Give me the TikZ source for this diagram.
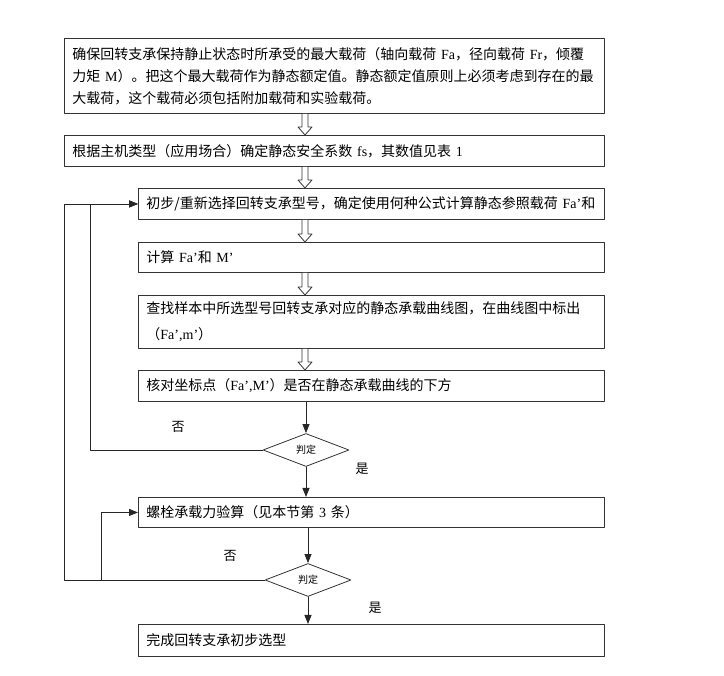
\documentclass[tikz,border=0pt]{standalone}
\usepackage{fontspec}
\setmainfont{Noto Sans CJK SC}
\newfontfamily\latinfont{Liberation Serif}
\usetikzlibrary{arrows.meta,calc,shapes.geometric}

\newcommand{\lat}[1]{{\latinfont #1}}
% hollow block arrow between two boxes, on the column of (axis)
\newcommand{\hollowarrow}[2]{%
  \draw[hollow] ($(#1.south -| axis)+(-3,0)$) -- ($(#2.north -| axis)+(-3,-8)$)
    -- ($(#2.north -| axis)+(-7,-8)$) -- (#2.north -| axis)
    -- ($(#2.north -| axis)+(7,-8)$) -- ($(#2.north -| axis)+(3,-8)$)
    -- ($(#1.south -| axis)+(3,0)$);}

\begin{document}
\begin{tikzpicture}[x=1pt,y=-1pt,line cap=round,line join=round,>={Triangle[length=9pt,width=7pt]},
  stepbox/.style={draw=black!80,line width=0.9pt,anchor=north west,align=left,inner xsep=8pt,inner ysep=2pt,font=\fontsize{14}{22}\selectfont},
  widebox/.style={stepbox,text width=524pt},
  narrowbox/.style={stepbox,text width=450pt},
  decide/.style={diamond,draw=black!80,line width=0.8pt,aspect=2.6,inner sep=0pt,minimum width=86pt,minimum height=33pt,font=\fontsize{10}{12}\selectfont},
  flow/.style={line width=0.8pt,draw=black!85},
  hollow/.style={line width=0.8pt,draw=black!80,fill=white},
  lbl/.style={font=\fontsize{13}{15}\selectfont}]
	\useasboundingbox (0,0) rectangle (724,676);
	\coordinate (axis) at (305,0);
	\coordinate (outA) at (64,0);
	\coordinate (inA) at (90,0);
	\coordinate (inB) at (101,0);
	% boxes
	\node[widebox,minimum height=75pt] (b1) at (64,38) {确保回转支承保持静止状态时所承受的最大载荷（轴向载荷 \lat{Fa}，径向载荷 \lat{Fr}，倾覆\\力矩 \lat{M}）。把这个最大载荷作为静态额定值。静态额定值原则上必须考虑到存在的最\\大载荷，这个载荷必须包括附加载荷和实验载荷。};
	\node[widebox,minimum height=31pt] (b2) at (64,135) {根据主机类型（应用场合）确定静态安全系数 \lat{fs}，其数值见表 \lat{1}};
	\node[narrowbox,minimum height=31pt] (b3) at (138,188) {\mbox{初步/重新选择回转支承型号，确定使用何种公式计算静态参照载荷 \lat{Fa’}和}};
	\node[narrowbox,minimum height=30pt] (b4) at (138,242) {计算 \lat{Fa’}和 \lat{M’}};
	\node[narrowbox,minimum height=53pt,font=\fontsize{14}{26}\selectfont] (b5) at (138,295) {查找样本中所选型号回转支承对应的静态承载曲线图，在曲线图中标出\\（\lat{Fa’,m’}）};
	\node[narrowbox,minimum height=31pt] (b6) at (138,370) {核对坐标点（\lat{Fa’,M’}）是否在静态承载曲线的下方};
	\node[decide] (d1) at (306,450) {判定};
	\node[narrowbox,minimum height=30pt] (b7) at (138,497) {螺栓承载力验算（见本节第 \lat{3} 条）};
	\node[decide] (d2) at (308,580) {判定};
	\node[narrowbox,minimum height=32pt] (b8) at (138,624) {完成回转支承初步选型};
	% labels
	\node[lbl] (no1) at (178,427) {否};
	\node[lbl] (yes1) at (362,469) {是};
	\node[lbl] (no2) at (230,556) {否};
	\node[lbl] (yes2) at (375,608) {是};
	% hollow arrows
	\hollowarrow{b1}{b2}
	\hollowarrow{b2}{b3}
	\hollowarrow{b3}{b4}
	\hollowarrow{b4}{b5}
	\hollowarrow{b5}{b6}
	% solid arrows
	\draw[flow,->] (b6.south -| d1) -- (d1.north);
	\draw[flow,->] (d1.south) -- (b7.north -| d1);
	\draw[flow,->] (b7.south -| d2) -- (d2.north);
	\draw[flow,->] (d2.south) -- (b8.north -| d2);
	% loops back
	\draw[flow,->] (d1.west) -| (inA |- b3.west) -- (b3.west);
	\draw[flow,->] (d2.west) -| (outA |- b3.west) -- (b3.west);
	\draw[flow,->] (inB |- d2.west) -- (inB |- b7.west) -- (b7.west);
\end{tikzpicture}
\end{document}
